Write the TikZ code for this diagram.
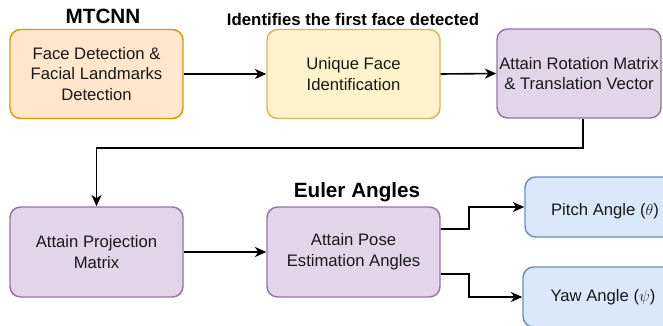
\documentclass[tikz,border=0pt]{standalone}
\usepackage{fontspec}
\setmainfont{Liberation Sans}
\usetikzlibrary{arrows.meta}
\definecolor{orfill}{HTML}{FFE6CC}\definecolor{ordraw}{HTML}{D79B00}
\definecolor{yefill}{HTML}{FFF2CC}\definecolor{yedraw}{HTML}{D6B656}
\definecolor{pufill}{HTML}{E1D5E7}\definecolor{pudraw}{HTML}{9673A6}
\definecolor{blfill}{HTML}{DAE8FC}\definecolor{bldraw}{HTML}{6C8EBF}
\tikzset{
  box/.style={draw, line width=1.1pt, rounded corners=8pt, align=center,
    font=\fontsize{12.5}{15.5}\selectfont, inner sep=0pt, text=black!90},
  bigbox/.style={box, minimum width=173*0.75pt, minimum height=89*0.75pt},
  orbox/.style={bigbox, fill=orfill, draw=ordraw},
  yebox/.style={bigbox, fill=yefill, draw=yedraw},
  pubox/.style={bigbox, fill=pufill, draw=pudraw},
  blbox/.style={box, fill=blfill, draw=bldraw, minimum width=160*0.75pt, minimum height=60*0.75pt},
  conn/.style={line width=1.2pt, -{Stealth[length=8.5pt,width=7.5pt,inset=2.5pt]}},
  title/.style={font=\bfseries\fontsize{15.5}{18}\selectfont},
  note/.style={font=\bfseries\fontsize{12.6}{14}\selectfont},
}
\begin{document}
\begin{tikzpicture}[x=0.75pt,y=-0.75pt]
\useasboundingbox (0,0) rectangle (663,325);
\clip (0,0) rectangle (663,325);
\fill[white] (0,0) rectangle (663,325);
\node[orbox] (b1) at (96.5,74) {Face Detection \&\\Facial Landmarks\\Detection};
\node[yebox] (b2) at (353.5,74) {Unique Face\\Identification};
\node[pubox, minimum width=164*0.75pt] (b3) at (579,73.5) {Attain Rotation Matrix\\\& Translation Vector};
\node[pubox, minimum height=90*0.75pt] (b4) at (96.5,252) {Attain Projection\\Matrix};
\node[pubox, minimum height=90*0.75pt] (b5) at (353.5,252) {Attain Pose\\Estimation Angles};
\node[blbox, text height=15pt] (p) at (605,207) {Pitch Angle ($\theta$)};
\node[blbox] (yw) at (603,297) {Yaw Angle ($\psi$)};
\node[title] (t1) at (103,16) {MTCNN};
\node[note] (t2) at (353,19) {Identifies the first face detected};
\node[title] (t3) at (357,192) {Euler Angles};
\draw[conn] (b1.east) -- (b2.west);
\draw[conn] (b2.east) -- (b3.west);
\draw[conn] ([xshift=3pt]b3.south) -- ++(0,29) -| (b4.north);
\draw[conn] (b4.east) -- (b5.west);
\draw[conn] ([yshift=17.25pt]b5.east) -- ++(28,0) |- (p.west);
\draw[conn] ([yshift=-16.5pt]b5.east) -- ++(28,0) |- (yw.west);
\end{tikzpicture}
\end{document}
